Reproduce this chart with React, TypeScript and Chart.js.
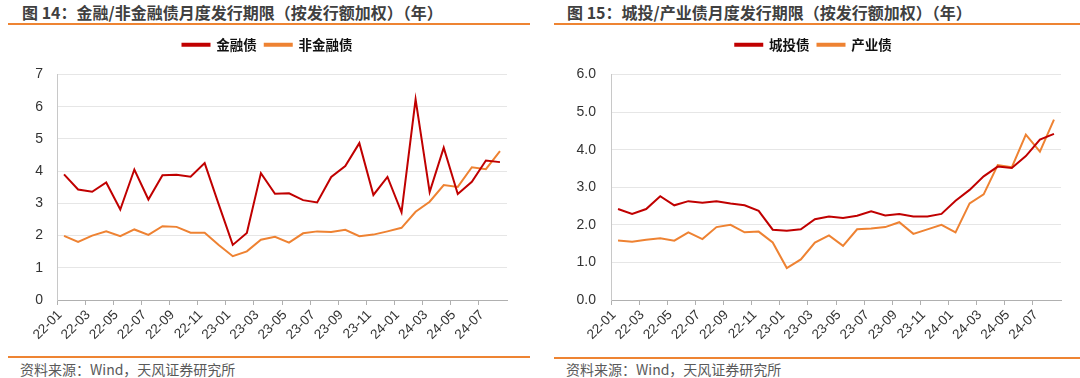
import React, { useEffect, useRef } from "react";
import { Chart, registerables } from "chart.js";

Chart.register(...registerables);

const months: string[] = [
  "22-01", "22-02", "22-03", "22-04", "22-05", "22-06", "22-07", "22-08", "22-09", "22-10", "22-11", "22-12",
  "23-01", "23-02", "23-03", "23-04", "23-05", "23-06", "23-07", "23-08", "23-09", "23-10", "23-11", "23-12",
  "24-01", "24-02", "24-03", "24-04", "24-05", "24-06", "24-07", "24-08",
];

const financialBonds: number[] = [
  3.90, 3.43, 3.36, 3.65, 2.81, 4.05, 3.12, 3.87, 3.89, 3.83, 4.25, 2.97,
  1.71, 2.08, 3.94, 3.30, 3.31, 3.10, 3.03, 3.82, 4.16, 4.87, 3.26, 3.82,
  2.72, 6.23, 3.35, 4.73, 3.29, 3.67, 4.33, 4.28,
];
const nonFinancialBonds: number[] = [
  1.99, 1.80, 2.00, 2.13, 1.98, 2.19, 2.02, 2.29, 2.27, 2.09, 2.09, 1.71,
  1.36, 1.51, 1.87, 1.96, 1.78, 2.07, 2.13, 2.11, 2.18, 1.98, 2.03, 2.13,
  2.24, 2.74, 3.05, 3.57, 3.51, 4.12, 4.06, 4.62,
];

const lgfvBonds: number[] = [
  2.42, 2.29, 2.42, 2.76, 2.52, 2.63, 2.59, 2.63, 2.57, 2.52, 2.37, 1.87,
  1.84, 1.88, 2.15, 2.22, 2.18, 2.24, 2.36, 2.25, 2.29, 2.22, 2.22, 2.29,
  2.64, 2.93, 3.29, 3.55, 3.51, 3.83, 4.27, 4.42,
];
const industrialBonds: number[] = [
  1.58, 1.55, 1.60, 1.64, 1.58, 1.80, 1.62, 1.94, 2.00, 1.80, 1.82, 1.53,
  0.85, 1.08, 1.53, 1.72, 1.44, 1.88, 1.90, 1.94, 2.07, 1.76, 1.88, 2.00,
  1.80, 2.57, 2.81, 3.59, 3.53, 4.40, 3.95, 4.80,
];

const leftTitle = "图 14：金融/非金融债月度发行期限（按发行额加权）（年）";
const rightTitle = "图 15：城投/产业债月度发行期限（按发行额加权）（年）";
const sourceText = "资料来源：Wind，天风证券研究所";
const leftSeriesNames: string[] = ["金融债", "非金融债"];
const rightSeriesNames: string[] = ["城投债", "产业债"];
const leftYMax = 7;
const rightYMax = 6;

const RED = "#C00000";
const ORANGE = "#EE8232";
const ACCENT = "#EE8432";

type PanelProps = {
  names: string[];
  series: number[][];
  yMax: number;
  decimals: number;
  yAxisWidth: number;
  rightPad: number;
  tickPad: number;
  legendShift: number;
};

function LineChart({ names, series, yMax, decimals, yAxisWidth, rightPad, tickPad, legendShift }: PanelProps) {
  const ref = useRef<HTMLCanvasElement | null>(null);
  useEffect(() => {
    if (!ref.current) return;
    const colors = [RED, ORANGE];
    const legendSpacing = {
      id: "legendSpacing",
      beforeInit(chart: any) {
        const legend = chart.legend;
        if (!legend) return;
        const origFit = legend.fit;
        legend.fit = function () {
          origFit.call(this);
          this.height += 13;
        };
      },
      afterLayout(chart: any) {
        const legend = chart.legend;
        if (!legend) return;
        legend.left += legendShift;
        legend.right += legendShift;
        if (legend.adjustHitBoxes) legend.adjustHitBoxes();
      },
    };
    const chart = new Chart(ref.current, {
      type: "line",
      data: {
        labels: months,
        datasets: series.map((s, i) => ({
          label: names[i],
          data: s,
          borderColor: colors[i],
          backgroundColor: colors[i],
          borderWidth: 2,
          pointRadius: 0,
          tension: 0,
        })),
      },
      options: {
        animation: false,
        responsive: false,
        maintainAspectRatio: false,
        layout: { padding: { top: 0, right: rightPad, left: 0, bottom: 0 } },
        plugins: {
          tooltip: { enabled: false },
          legend: {
            position: "top",
            labels: {
              boxWidth: 27,
              boxHeight: 2,
              padding: 8,
              color: "#111111",
              font: { family: '"Noto Sans CJK SC", sans-serif', size: 13.5, weight: "bold" },
            },
          },
        },
        scales: {
          x: {
            offset: true,
            grid: {
              offset: true,
              drawOnChartArea: false,
              drawTicks: true,
              tickLength: 5,
              tickColor: (ctx: any) => (ctx.index % 2 === 0 ? "#B0B0B0" : "rgba(0,0,0,0)"),
            },
            border: { color: "#B0B0B0", width: 1 },
            ticks: {
              autoSkip: false,
              minRotation: 45,
              maxRotation: 45,
              padding: 2,
              labelOffset: -4,
              color: "#333333",
              font: { family: '"Liberation Sans", Arial, sans-serif', size: 13.5 },
              callback: (_v: any, idx: number) => (idx % 2 === 0 ? months[idx] : ""),
            },
            afterFit: (s: any) => {
              s.height = 54;
            },
          },
          y: {
            min: 0,
            max: yMax,
            grid: { color: "#E6E6E6", lineWidth: 1, drawTicks: false },
            border: { color: "#C8C8C8", width: 1 },
            ticks: {
              stepSize: 1,
              padding: tickPad,
              color: "#333333",
              font: { family: '"Liberation Sans", Arial, sans-serif', size: 14 },
              callback: (v: any) => Number(v).toFixed(decimals),
            },
            afterFit: (s: any) => {
              s.width = yAxisWidth;
            },
          },
        },
      },
      plugins: [legendSpacing],
    });
    return () => chart.destroy();
  }, []);
  return <canvas ref={ref} width={yAxisWidth + 450 + rightPad} height={324} style={{ display: "block" }} />;
}

const titleStyle: React.CSSProperties = {
  position: "absolute",
  top: 2,
  fontFamily: '"Noto Sans CJK SC", sans-serif',
  fontWeight: "bold",
  fontSize: 16,
  lineHeight: "20px",
  color: "#404040",
  whiteSpace: "nowrap",
};
const sourceStyle: React.CSSProperties = {
  position: "absolute",
  top: 360,
  fontFamily: '"Noto Sans CJK SC", sans-serif',
  fontSize: 14,
  lineHeight: "18px",
  color: "#595959",
  whiteSpace: "nowrap",
};

export default function App() {
  return (
    <div style={{ position: "fixed", left: 0, top: 0, width: 1080, height: 378, background: "#fff", overflow: "hidden" }}>
      <div style={{ ...titleStyle, left: 22 }}>{leftTitle}</div>
      <div style={{ position: "absolute", left: 8, top: 23, width: 522, height: 2, background: ACCENT }} />
      <div style={{ position: "absolute", left: 8, top: 30 }}>
        <LineChart names={leftSeriesNames} series={[financialBonds, nonFinancialBonds]} yMax={leftYMax} decimals={0}
          yAxisWidth={49} rightPad={24} tickPad={14} legendShift={10} />
      </div>
      <div style={{ position: "absolute", left: 8, top: 356, width: 522, height: 2, background: ACCENT }} />
      <div style={{ ...sourceStyle, left: 20 }}>{sourceText}</div>

      <div style={{ ...titleStyle, left: 567 }}>{rightTitle}</div>
      <div style={{ position: "absolute", left: 554, top: 23, width: 526, height: 2, background: ACCENT }} />
      <div style={{ position: "absolute", left: 554, top: 30 }}>
        <LineChart names={rightSeriesNames} series={[lgfvBonds, industrialBonds]} yMax={rightYMax} decimals={1}
          yAxisWidth={57} rightPad={28} tickPad={15} legendShift={6} />
      </div>
      <div style={{ position: "absolute", left: 554, top: 357, width: 526, height: 2, background: ACCENT }} />
      <div style={{ ...sourceStyle, left: 566 }}>{sourceText}</div>
    </div>
  );
}
